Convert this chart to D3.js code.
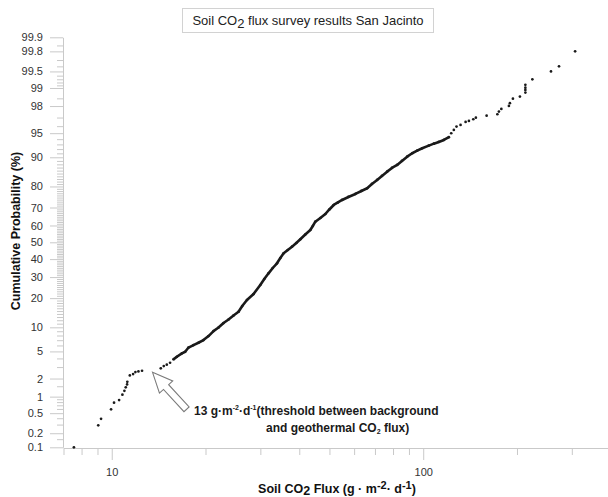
<!DOCTYPE html>
<html>
<head>
<meta charset="utf-8">
<script src="https://cdn.jsdelivr.net/npm/d3@7"></script>
<style>
    body { margin: 0; background: #fff; }
    svg { font-family: Arial, "Liberation Sans", sans-serif; }
    .axis path, .axis line { stroke: #c9c9c9; }
    .axis text { fill: #333; font-size: 11px; }
</style>
</head>
<body>
<script>
// sparse background points (low tail)
let lowFlux = [7.56, 9.05, 9.24, 9.95, 10.17, 10.56, 10.82, 10.98, 11.09, 11.20, 11.22, 11.43, 11.71, 11.91, 12.18, 12.51, 14.37, 14.69, 15.02, 15.39];
let lowProb = [0.10, 0.29, 0.39, 0.59, 0.78, 0.87, 1.08, 1.26, 1.44, 1.61, 1.77, 2.24, 2.35, 2.52, 2.58, 2.64, 2.87, 3.10, 3.25, 3.47];

// dense run of points
let trendFlux = [15.78, 16.18, 16.80, 17.21, 17.64, 18.30, 18.98, 19.70, 20.45, 21.22, 22.02, 22.85, 23.71, 24.60, 25.53, 26.24, 27.17, 28.53, 29.98, 30.88, 31.87, 32.88, 33.92, 34.77, 35.63, 36.75, 37.91, 39.13, 40.31, 41.82, 43.40, 44.21, 45.04, 46.74, 48.51, 49.96, 51.60, 53.23, 54.91, 57.52, 60.58, 63.33, 66.06, 68.45, 71.13, 73.70, 76.59, 79.37, 82.48, 85.45, 88.83, 92.17, 95.65, 99.26, 104.2, 108.2, 112.2, 116.5, 120.9];
let trendProb = [3.88, 4.22, 4.71, 4.95, 5.63, 6.07, 6.50, 7.03, 7.88, 9.04, 9.94, 11.18, 12.22, 13.48, 14.76, 16.83, 19.21, 21.77, 25.98, 29.0, 32.0, 34.92, 37.57, 40.64, 43.41, 45.38, 47.35, 49.58, 51.80, 54.68, 57.36, 59.71, 62.20, 64.30, 66.52, 68.96, 71.31, 72.58, 73.83, 75.28, 76.69, 78.05, 79.23, 81.04, 82.63, 84.13, 85.66, 86.88, 87.82, 88.99, 90.17, 91.03, 91.64, 92.19, 92.75, 93.15, 93.48, 93.86, 94.34];

// sparse high tail
let highFlux = [123.0, 125.4, 127.9, 131.8, 136.8, 140.2, 144.8, 147.6, 159.8, 173.0, 175.0, 178.2, 188.4, 189.8, 194.1, 204.4, 212.8, 212.8, 212.8, 212.8, 224.1, 257.2, 272.9, 307.4];
let highProb = [94.99, 95.48, 95.94, 96.16, 96.52, 96.63, 96.82, 96.99, 97.19, 97.32, 97.56, 97.78, 98.01, 98.20, 98.48, 98.60, 98.80, 98.92, 99.01, 99.12, 99.30, 99.50, 99.60, 99.80];

let yTicks = [0.1, 0.2, 0.5, 1, 2, 5, 10, 20, 30, 40, 50, 60, 70, 80, 90, 95, 98, 99, 99.5, 99.8, 99.9];
let yMinorExtra = [0.15, 0.3, 0.4, 0.6, 0.7, 0.8, 0.9, 1.5, 3, 4, 6, 7, 8, 9, 91, 92, 93, 94, 96, 97, 98.5, 99.1, 99.2, 99.3, 99.4, 99.6, 99.7, 99.85];
let xTicks = [10, 100];
let xMinor = [7, 8, 9, 20, 30, 40, 50, 60, 70, 80, 90, 200, 300];
let threshold = 13;

let width = 608,
    height = 497;

// inverse normal cdf (Acklam)
function probit(p) {
    let a = [-39.69683028665376, 220.9460984245205, -275.9285104469687, 138.3577518672690, -30.66479806614716, 2.506628277459239],
        b = [-54.47609879822406, 161.5858368580409, -155.6989798598866, 66.80131188771972, -13.28068155288572],
        c = [-0.007784894002430293, -0.3223964580411365, -2.400758277161838, -2.549732539343734, 4.374664141464968, 2.938163982698783],
        d = [0.007784695709041462, 0.3224671290700398, 2.445134137142996, 3.754408661907416],
        pl = 0.02425;
    if (p < pl || p > 1 - pl) {
        let q = Math.sqrt(-2 * Math.log(p < pl ? p : 1 - p));
        let v = (((((c[0]*q + c[1])*q + c[2])*q + c[3])*q + c[4])*q + c[5]) / ((((d[0]*q + d[1])*q + d[2])*q + d[3])*q + 1);
        return p < pl ? v : -v;
    }
    let q = p - 0.5, r = q * q;
    return (((((a[0]*r + a[1])*r + a[2])*r + a[3])*r + a[4])*r + a[5])*q / (((((b[0]*r + b[1])*r + b[2])*r + b[3])*r + b[4])*r + 1);
}

let x = d3.scaleLog()
    .domain([7, 392])
    .range([63.5, width]);

let zScale = d3.scaleLinear()
    .domain([probit(0.001), probit(0.999)])
    .range([447.3, 37.3]);

let y = function(p) { return zScale(probit(p / 100)); };

let yMinor = d3.range(11, 90).filter(function(v) { return v % 10 != 0; }).concat(yMinorExtra);

let svg = d3.select("body").append("svg")
    .attr("width", width)
    .attr("height", height);

// axes
svg.append("g")
    .attr("class", "axis")
    .attr("transform", "translate(63,0)")
    .call(d3.axisLeft(zScale)
        .tickValues(yMinor.map(function(p) { return probit(p / 100); }))
        .tickFormat("")
        .tickSize(6)
        .tickSizeOuter(0))
    .select(".domain").remove();

svg.append("g")
    .attr("class", "axis")
    .attr("transform", "translate(63,0)")
    .call(d3.axisLeft(zScale)
        .tickValues(yTicks.map(function(p) { return probit(p / 100); }))
        .tickFormat(function(d, i) { return yTicks[i]; })
        .tickSize(13)
        .tickPadding(7)
        .tickSizeOuter(0));

svg.append("g")
    .attr("class", "axis")
    .attr("transform", "translate(0,448)")
    .call(d3.axisBottom(x)
        .tickValues(xMinor)
        .tickFormat("")
        .tickSize(7)
        .tickSizeOuter(0));

svg.append("g")
    .attr("class", "axis")
    .attr("transform", "translate(0,448)")
    .call(d3.axisBottom(x)
        .tickValues(xTicks)
        .tickFormat(d3.format("d"))
        .tickSize(12)
        .tickPadding(8)
        .tickSizeOuter(0));

// title box
svg.append("rect")
    .attr("x", 182.5)
    .attr("y", 8.5)
    .attr("width", 251)
    .attr("height", 24)
    .attr("fill", "#fff")
    .attr("stroke", "#d2d2d2");

let title = svg.append("text")
    .attr("x", 308)
    .attr("y", 25)
    .attr("text-anchor", "middle")
    .style("font-size", "13px")
    .style("fill", "#222");
title.append("tspan").text("Soil CO");
title.append("tspan").attr("dy", 3).text("2");
title.append("tspan").attr("dy", -3).text(" flux survey results San Jacinto");

// axis titles
svg.append("text")
    .attr("transform", "rotate(-90)")
    .attr("x", -231)
    .attr("y", 20)
    .attr("text-anchor", "middle")
    .style("font-size", "12.5px")
    .style("font-weight", "bold")
    .style("fill", "#111")
    .text("Cumulative Probability (%)");

let xTitle = svg.append("text")
    .attr("x", 337)
    .attr("y", 493)
    .attr("text-anchor", "middle")
    .style("font-size", "12.5px")
    .style("font-weight", "bold")
    .style("fill", "#111");
xTitle.append("tspan").text("Soil CO");
xTitle.append("tspan").attr("dy", 2).text("2");
xTitle.append("tspan").attr("dy", -2).text(" Flux (g · m");
xTitle.append("tspan").attr("dy", -4).style("font-size", "11px").text("-2");
xTitle.append("tspan").attr("dy", 4).text("· d");
xTitle.append("tspan").attr("dy", -4).style("font-size", "11px").text("-1");
xTitle.append("tspan").attr("dy", 4).text(")");

// points
let lowPts = lowFlux.map(function(f, i) { return [f, lowProb[i]]; });
let trendPts = trendFlux.map(function(f, i) { return [f, trendProb[i]]; });
let highPts = highFlux.map(function(f, i) { return [f, highProb[i]]; });

svg.append("path")
    .datum(trendPts)
    .attr("fill", "none")
    .attr("stroke", "#1a1a1a")
    .attr("stroke-width", 2.6)
    .attr("stroke-linejoin", "round")
    .attr("d", d3.line()
        .x(function(d) { return x(d[0]); })
        .y(function(d) { return y(d[1]); }));

svg.selectAll(".pt")
    .data(lowPts.concat(trendPts, highPts))
    .enter().append("circle")
    .attr("class", "pt")
    .attr("cx", function(d) { return x(d[0]); })
    .attr("cy", function(d) { return y(d[1]); })
    .attr("r", 1.35)
    .attr("fill", "#1a1a1a");

// threshold annotation
let tip = [x(threshold * 1.04), y(2.5)],
    tail = [tip[0] + 34, tip[1] + 37];
let len = Math.hypot(tail[0] - tip[0], tail[1] - tip[1]),
    u = [(tip[0] - tail[0]) / len, (tip[1] - tail[1]) / len],
    n = [-u[1], u[0]],
    base = [tip[0] - u[0] * 20, tip[1] - u[1] * 20];
let off = function(p, k) { return [p[0] + n[0] * k, p[1] + n[1] * k]; };

svg.append("polygon")
    .attr("points", [tip, off(base, 9), off(base, 3.5), off(tail, 3.5), off(tail, -3.5), off(base, -3.5), off(base, -9)].join(" "))
    .attr("fill", "#fff")
    .attr("stroke", "#7a7a7a")
    .attr("stroke-width", 1.1);

let note = svg.append("text")
    .attr("x", 194)
    .attr("y", 415)
    .style("font-size", "12px")
    .style("font-weight", "bold")
    .style("fill", "#1a1a1a");
note.append("tspan").text(threshold + " g·m");
note.append("tspan").attr("dy", -5).style("font-size", "7px").text("-2");
note.append("tspan").attr("dy", 5).text("·d");
note.append("tspan").attr("dy", -5).style("font-size", "7px").text("-1");
note.append("tspan").attr("dy", 5).text("(threshold between background");

let note2 = svg.append("text")
    .attr("x", 266)
    .attr("y", 432)
    .style("font-size", "12px")
    .style("font-weight", "bold")
    .style("fill", "#1a1a1a");
note2.append("tspan").text("and geothermal CO");
note2.append("tspan").attr("dy", 2).style("font-size", "7px").text("2");
note2.append("tspan").attr("dy", -2).text(" flux)");
</script>
</body>
</html>
